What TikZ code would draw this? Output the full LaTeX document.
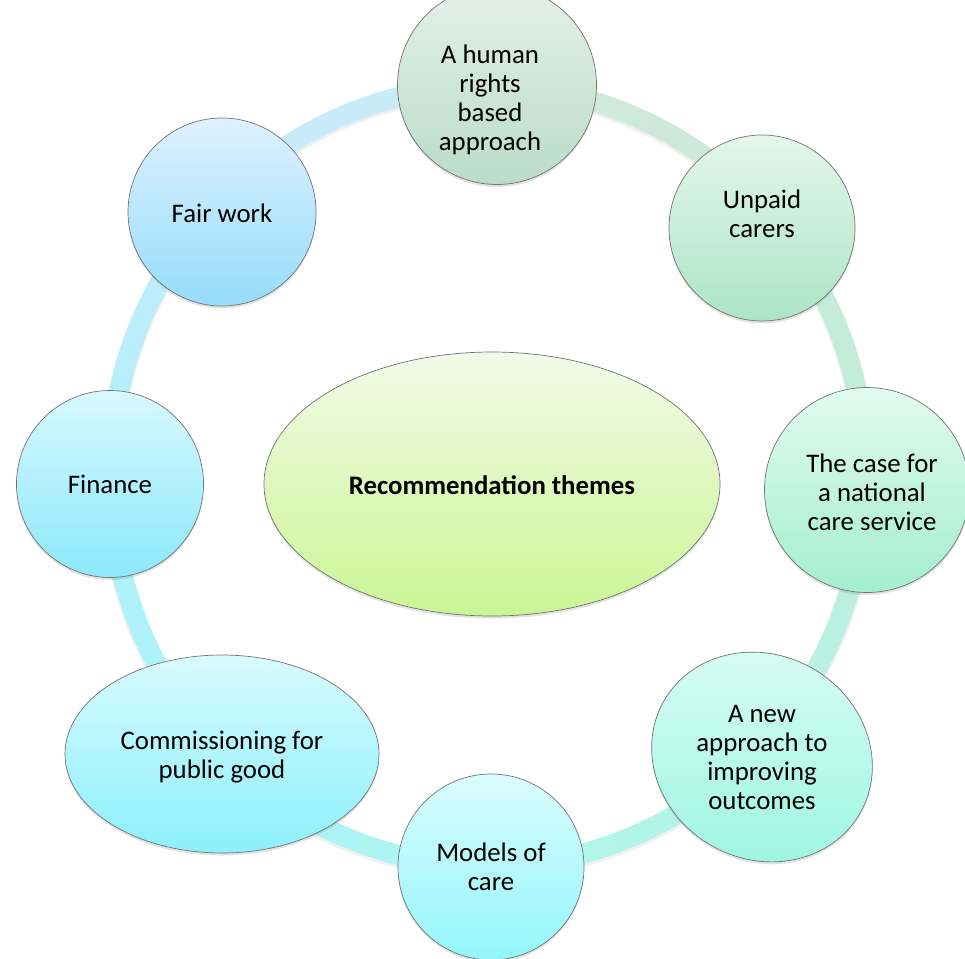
\documentclass[tikz,border=0pt]{standalone}
\usepackage{fontspec}
\setmainfont{Carlito}
\usetikzlibrary{shapes.geometric,shadows}

% shading colours of the theme bubbles (top / bottom)
\definecolor{hrTop}{RGB}{228,240,234}\definecolor{hrBot}{RGB}{186,220,200}
\definecolor{ucTop}{RGB}{228,246,236}\definecolor{ucBot}{RGB}{172,228,198}
\definecolor{csTop}{RGB}{226,250,240}\definecolor{csBot}{RGB}{164,238,208}
\definecolor{naTop}{RGB}{218,252,246}\definecolor{naBot}{RGB}{158,246,226}
\definecolor{mcTop}{RGB}{218,252,255}\definecolor{mcBot}{RGB}{148,246,250}
\definecolor{cpTop}{RGB}{216,250,255}\definecolor{cpBot}{RGB}{140,240,250}
\definecolor{fiTop}{RGB}{216,248,255}\definecolor{fiBot}{RGB}{140,232,250}
\definecolor{fwTop}{RGB}{222,242,255}\definecolor{fwBot}{RGB}{150,220,250}
\definecolor{ctTop}{RGB}{242,250,232}\definecolor{ctBot}{RGB}{202,246,148}
% ring colours: start (s) and end (e) of each 45-degree stretch,
% starting on the right and going clockwise
\definecolor{s0}{RGB}{190,238,220}\definecolor{e0}{RGB}{180,244,228}
\definecolor{s1}{RGB}{180,244,228}\definecolor{e1}{RGB}{174,246,240}
\definecolor{s2}{RGB}{174,246,240}\definecolor{e2}{RGB}{172,244,248}
\definecolor{s3}{RGB}{172,244,248}\definecolor{e3}{RGB}{178,240,250}
\definecolor{s4}{RGB}{178,240,250}\definecolor{e4}{RGB}{196,236,250}
\definecolor{s5}{RGB}{196,236,250}\definecolor{e5}{RGB}{204,234,246}
\definecolor{s6}{RGB}{212,232,222}\definecolor{e6}{RGB}{200,234,218}
\definecolor{s7}{RGB}{200,234,218}\definecolor{e7}{RGB}{190,238,220}

\tikzset{
  bubble/.style={circle, draw=black!55, line width=0.7pt, inner sep=0pt,
    drop shadow={opacity=0.22, shadow xshift=0pt, shadow yshift=-2.5pt}},
  oval/.style={ellipse, draw=black!55, line width=0.7pt, inner sep=0pt,
    drop shadow={opacity=0.22, shadow xshift=0pt, shadow yshift=-2.5pt}},
  lbl/.style={align=center, inner sep=0pt, font=\fontsize{26.8}{29}\selectfont},
}

\begin{document}
\begin{tikzpicture}[x=1pt,y=-1pt]
\useasboundingbox (0,0) rectangle (965,958);
\fill[white] (0,0) rectangle (965,958);

% faint shadow under the ring
\draw[black, opacity=0.06, line width=22pt] (488,478) ellipse[x radius=378, y radius=390];
% the ring joining the themes, coloured in short arcs
\foreach \a in {0,5,...,355}{
  \pgfmathtruncatemacro\k{\a/45}
  \pgfmathtruncatemacro\t{mod(\a,45)*100/45}
  \colorlet{segc}{e\k!\t!s\k}
  \draw[segc, line width=20pt]
    ({488+378*cos(\a)},{476+390*sin(\a)})
    arc[start angle=\a, end angle=\a+5.5, x radius=378, y radius=390];
}

% theme bubbles
\node[bubble, minimum size=199pt, top color=hrTop, bottom color=hrBot] (hr) at (497,85) {};
\node[lbl] (hrT) at (490,100) {A human\\rights\\based\\approach};

\node[bubble, minimum size=186pt, top color=ucTop, bottom color=ucBot] (uc) at (762,228) {};
\node[lbl] (ucT) at (762,214) {Unpaid\\carers};

\node[bubble, minimum size=205pt, top color=csTop, bottom color=csBot] (cs) at (867,490) {};
\node[lbl] (csT) at (872,492) {The case for\\a national\\care service};

\node[oval, minimum width=226pt, minimum height=204pt, top color=naTop, bottom color=naBot, rotate=-30] (na) at (762,757) {};
\node[lbl] (naT) at (762,757) {A new\\approach to\\improving\\outcomes};

\node[bubble, minimum size=186pt, top color=mcTop, bottom color=mcBot] (mc) at (491,867) {};
\node[lbl] (mcT) at (491,867) {Models of\\care};

\node[oval, minimum width=314pt, minimum height=198pt, top color=cpTop, bottom color=cpBot] (cp) at (222,754) {};
\node[lbl] (cpT) at (222,757) {Commissioning for\\public good};

\node[bubble, minimum size=187pt, top color=fiTop, bottom color=fiBot] (fi) at (110,484) {};
\node[lbl] (fiT) at (110,484) {Finance};

\node[bubble, minimum size=188pt, top color=fwTop, bottom color=fwBot] (fw) at (222,212) {};
\node[lbl] (fwT) at (222,213) {Fair work};

% centre
\node[oval, minimum width=456pt, minimum height=264pt, top color=ctTop, bottom color=ctBot] (ct) at (492,484) {};
\node[lbl, font=\fontsize{26.8}{29}\selectfont\bfseries] (ctT) at (492,485) {Recommendation themes};
\end{tikzpicture}
\end{document}
